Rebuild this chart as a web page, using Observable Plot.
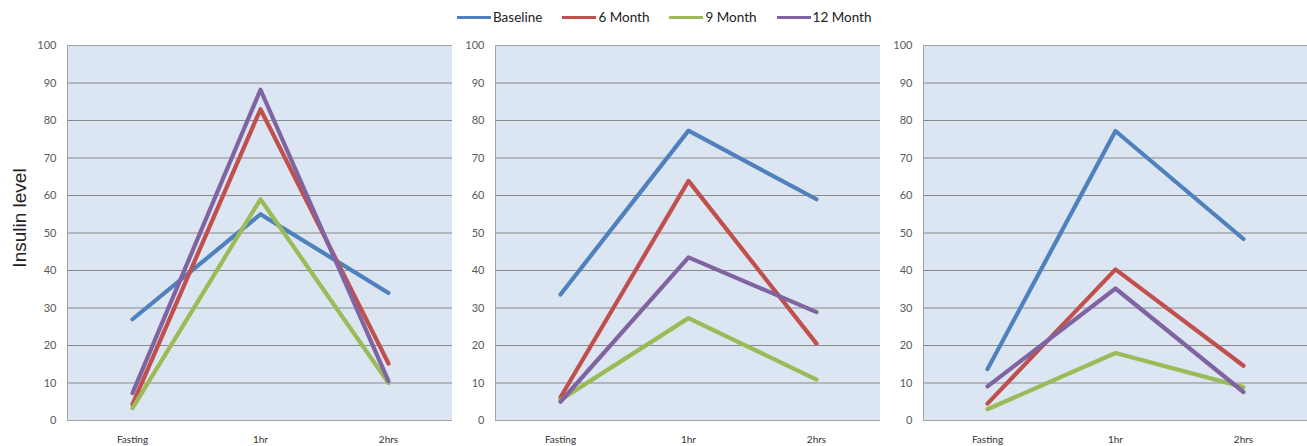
<!DOCTYPE html>
<html>
<head>
<meta charset="utf-8">
<script src="https://cdn.jsdelivr.net/npm/d3@7"></script>
<script src="https://cdn.jsdelivr.net/npm/@observablehq/plot@0.6"></script>
<style>
  body { margin: 0; background: #fff; }
  #root { position: relative; width: 1307px; height: 446px; overflow: hidden; font-family: Lato, "Open Sans", sans-serif; }
  #legend { position: absolute; top: 9px; left: 457px; display: flex; gap: 20px; align-items: center; font-size: 13.5px; color: #222; }
  .item { display: flex; align-items: center; }
  .swatch { width: 34px; height: 3px; margin-right: 2px; }
  .panel { position: absolute; top: 30px; }
</style>
</head>
<body>
<div id="root"><div id="legend"></div></div>
<script>
// Categories and series
const timepoints = ["Fasting", "1hr", "2hrs"];
const series = ["Baseline", "6 Month", "9 Month", "12 Month"];
const colors = ["#4f81bd", "#c0504d", "#9bbb59", "#8064a2"];
const yTicks = [0, 10, 20, 30, 40, 50, 60, 70, 80, 90, 100];

// Panel 1 values
const p1Baseline = [27, 55, 34];
const p1Month6 = [4.3, 83, 15.2];
const p1Month9 = [3.3, 59, 10];
const p1Month12 = [7.3, 88.2, 10.5];

// Panel 2 values
const p2Baseline = [33.6, 77.3, 59];
const p2Month6 = [6.2, 63.9, 20.5];
const p2Month9 = [5.5, 27.3, 10.9];
const p2Month12 = [5, 43.5, 28.9];

// Panel 3 values
const p3Baseline = [13.7, 77.2, 48.4];
const p3Month6 = [4.5, 40.3, 14.6];
const p3Month9 = [3, 18, 8.9];
const p3Month12 = [9.1, 35.2, 7.6];

function rows(arrs) {
  const out = [];
  arrs.forEach((vals, si) => vals.forEach((v, ti) => out.push({ s: series[si], t: timepoints[ti], v })));
  return out;
}

const panels = [
  { data: rows([p1Baseline, p1Month6, p1Month9, p1Month12]), left: 0, width: 452, marginLeft: 67, label: true },
  { data: rows([p2Baseline, p2Month6, p2Month9, p2Month12]), left: 452, width: 428, marginLeft: 43, label: false },
  { data: rows([p3Baseline, p3Month6, p3Month9, p3Month12]), left: 880, width: 427, marginLeft: 43, label: false }
];

const root = document.getElementById("root");

// Legend
const legend = document.getElementById("legend");
series.forEach((s, i) => {
  const item = document.createElement("div");
  item.className = "item";
  item.innerHTML = `<span class="swatch" style="background:${colors[i]}"></span><span>${s}</span>`;
  legend.appendChild(item);
});

panels.forEach(p => {
  const marks = [
    Plot.frame({ fill: "#dce6f2", stroke: "#a3a3a3" }),
    Plot.gridY(yTicks.slice(1, -1), { stroke: "#8a8a8a", strokeOpacity: 1 }),
    Plot.axisY(yTicks, { tickSize: 0, tickPadding: 11, fontSize: 11, color: "#595959" }),
    Plot.axisX({ tickSize: 0, tickPadding: 15, fontSize: 10, color: "#333" }),
    Plot.line(p.data, { x: "t", y: "v", z: "s", stroke: "s", strokeWidth: 4.2, strokeLinecap: "round", strokeLinejoin: "round" })
  ];
  if (p.label) {
    marks.push(Plot.text(["Insulin level"], { text: d => d, frameAnchor: "left", textAnchor: "middle", lineAnchor: "middle", dx: -48, dy: -15, rotate: -90, fontSize: 19, fontFamily: "Liberation Sans, Arial, sans-serif", fill: "#222" }));
  }
  const chart = Plot.plot({
    width: p.width,
    height: 416,
    marginLeft: p.marginLeft,
    marginRight: 0,
    marginTop: 15,
    marginBottom: 26,
    style: { fontFamily: "Lato, 'Open Sans', sans-serif", background: "transparent" },
    x: { type: "point", domain: timepoints, padding: 0.5, label: null },
    y: { domain: [0, 100], label: null },
    color: { domain: series, range: colors },
    marks
  });
  chart.classList.add("panel");
  chart.style.left = p.left + "px";
  root.appendChild(chart);
});
</script>
</body>
</html>
